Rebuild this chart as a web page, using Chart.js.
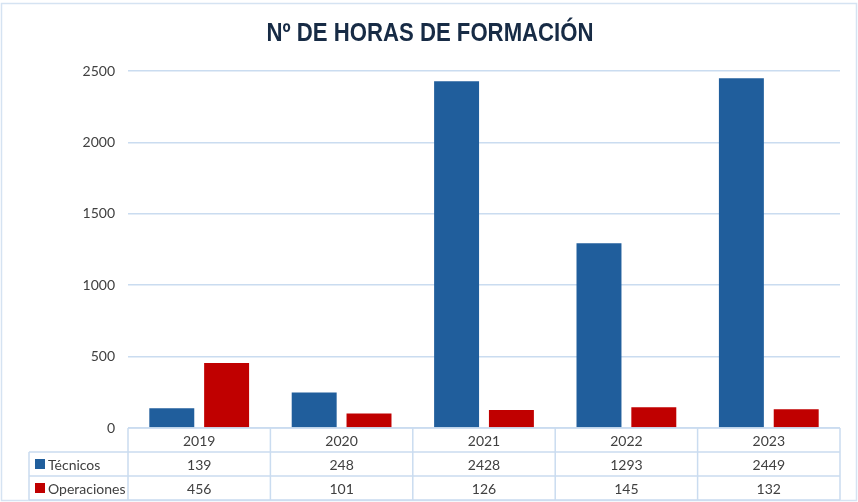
<!DOCTYPE html>
<html>
<head>
<meta charset="utf-8">
<script src="https://cdn.jsdelivr.net/npm/chart.js@4"></script>
<style>
  html, body { margin: 0; padding: 0; background: #fff; }
  #wrap { width: 858px; height: 502px; position: relative; }
</style>
</head>
<body>
<div id="wrap"><canvas id="chart" width="858" height="502"></canvas></div>
<script>
// Chart data
const years = ["2019", "2020", "2021", "2022", "2023"]
const tecnicos = [139, 248, 2428, 1293, 2449]
const operaciones = [456, 101, 126, 145, 132]
const yTicks = [0, 500, 1000, 1500, 2000, 2500]

const BLUE = "#205E9C"
const RED = "#C00000"
const GRID = "#CADCF0"
const TEXT = "#404040"
const FONT = "Lato, 'Liberation Sans', sans-serif"

// Title, outer frame and data table below the plot
const tablePlugin = {
  id: "dataTable",
  afterDraw(chart) {
    const { ctx, chartArea, scales } = chart
    const x = scales.x
    const rowH = 24
    const top = chartArea.bottom
    const legendLeft = 29
    const half = (x.getPixelForValue(1) - x.getPixelForValue(0)) / 2
    const edges = years.map((_, i) => x.getPixelForValue(i) - half)
    edges.push(x.getPixelForValue(years.length - 1) + half)

    ctx.save()
    // outer frame
    ctx.strokeStyle = "#D5E3F2"
    ctx.lineWidth = 1.5
    ctx.strokeRect(1.5, 3.5, 855, 497)

    // title (condensed to match the narrow original face)
    const title = "Nº DE HORAS DE FORMACIÓN"
    ctx.fillStyle = "#172B45"
    ctx.font = "bold 25px 'Liberation Sans', sans-serif"
    ctx.textAlign = "center"
    ctx.textBaseline = "middle"
    const w = ctx.measureText(title).width
    ctx.save()
    ctx.translate(430, 34)
    ctx.scale(327 / w, 1)
    ctx.fillText(title, 0, 0)
    ctx.restore()

    // grid of table
    ctx.strokeStyle = GRID
    ctx.lineWidth = 1.5
    ctx.beginPath()
    ctx.moveTo(edges[0], top); ctx.lineTo(edges[edges.length - 1], top)
    for (let r = 1; r <= 3; r++) {
      ctx.moveTo(legendLeft, top + r * rowH); ctx.lineTo(edges[edges.length - 1], top + r * rowH)
    }
    edges.forEach((e) => { ctx.moveTo(e, top); ctx.lineTo(e, top + 3 * rowH) })
    ctx.moveTo(legendLeft, top + rowH); ctx.lineTo(legendLeft, top + 3 * rowH)
    ctx.stroke()

    // texts
    ctx.fillStyle = TEXT
    ctx.font = "14px " + FONT
    ctx.textAlign = "center"
    years.forEach((y, i) => {
      const cx = x.getPixelForValue(i)
      ctx.fillText(y, cx, top + rowH / 2 + 1)
      ctx.fillText(String(tecnicos[i]), cx, top + rowH * 1.5 + 1)
      ctx.fillText(String(operaciones[i]), cx, top + rowH * 2.5 + 1)
    })

    // legend keys
    const series = [["Técnicos", BLUE], ["Operaciones", RED]]
    series.forEach(([label, color], k) => {
      const cy = top + rowH * (1.5 + k)
      ctx.fillStyle = color
      ctx.fillRect(35, cy - 5, 10, 10)
      ctx.fillStyle = TEXT
      ctx.textAlign = "left"
      ctx.fillText(label, 48, cy + 1)
    })
    ctx.restore()
  },
}

new Chart(document.getElementById("chart"), {
  type: "bar",
  data: {
    labels: years,
    datasets: [
      { label: "Técnicos", data: tecnicos, backgroundColor: BLUE },
      { label: "Operaciones", data: operaciones, backgroundColor: RED },
    ],
  },
  options: {
    responsive: false,
    animation: false,
    layout: { padding: { top: 71, bottom: 74, right: 18, left: 0 } },
    datasets: { bar: { categoryPercentage: 0.77, barPercentage: 0.82 } },
    plugins: { legend: { display: false }, tooltip: { enabled: false }, title: { display: false } },
    scales: {
      x: { display: false },
      y: {
        min: 0,
        max: 2500,
        afterBuildTicks: (scale) => { scale.ticks = yTicks.map((v) => ({ value: v })) },
        afterFit: (scale) => { scale.width = 128 },
        border: { display: false },
        grid: { color: GRID, lineWidth: 1.5, drawTicks: false },
        ticks: { color: TEXT, padding: 13, font: { size: 14, family: FONT }, callback: (v) => String(v) },
      },
    },
  },
  plugins: [tablePlugin],
})
</script>
</body>
</html>
